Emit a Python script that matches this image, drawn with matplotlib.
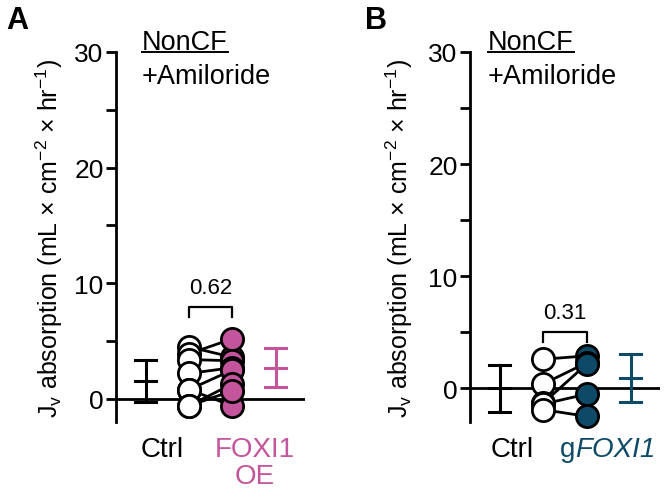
import matplotlib
matplotlib.use('Agg')
import matplotlib.pyplot as plt
import numpy as np

plt.rcParams['font.family'] = ['Liberation Sans', 'DejaVu Sans']
plt.rcParams['mathtext.fontset'] = 'custom'
plt.rcParams['mathtext.rm'] = 'Liberation Sans'
plt.rcParams['mathtext.it'] = 'Liberation Sans:italic'

# panel A data (paired wells)
a_ctrl = [4.5, 3.9, 3.4, 2.2, 0.8, 0.8, -0.6, -0.6]
a_treat = [3.6, 5.2, 3.3, 2.7, 2.5, -0.6, 1.3, 0.7]
a_ctrl_mean, a_ctrl_lo, a_ctrl_hi = 1.55, -0.25, 3.4
a_treat_mean, a_treat_lo, a_treat_hi = 2.7, 1.0, 4.4
a_p = '0.62'

# panel B data
b_ctrl = [2.6, 0.4, -1.3, -1.4, -1.9]
b_treat = [2.9, 2.3, 2.2, -0.5, -2.5]
b_ctrl_mean, b_ctrl_lo, b_ctrl_hi = 0.0, -2.1, 2.1
b_treat_mean, b_treat_lo, b_treat_hi = 0.9, -1.25, 3.1
b_p = '0.31'

pink = '#C4549C'
teal = '#0D4A68'

ylab = (r'J$_\mathregular{v}$ absorption (mL × cm$^{\mathregular{−2}}$'
        r' × hr$^{\mathregular{−1}}$)')

W, H = 670, 502
fig = plt.figure(figsize=(6.7, 5.02), dpi=100)


def fx(px):
    return px / W


def fy(py):
    return 1 - py / H


def summary(ax, x, mean, lo, hi, color):
    w = 0.24
    ax.plot([x, x], [lo, hi], color=color, lw=2.2, clip_on=False, zorder=3)
    for yy in (lo, mean, hi):
        ax.plot([x - w, x + w], [yy, yy], color=color, lw=2.2,
                clip_on=False, zorder=3)


def panel(x0, x1, ymin, ctrl, treat, stats, color, p, p_y, lab_x):
    ax = fig.add_axes([fx(x0), fy(423), fx(x1 - x0), (423 - 53) / H])
    ax.set_xlim(-0.68, 3.67)
    ax.set_ylim(ymin, 30)
    for s in ('top', 'right', 'bottom'):
        ax.spines[s].set_visible(False)
    ax.spines['left'].set_linewidth(2)
    ax.axhline(0, color='black', lw=2, zorder=2)
    ax.set_yticks([0, 10, 20, 30])
    ax.set_yticks([5, 15, 25], minor=True)
    ax.tick_params(axis='y', which='both', width=2, length=7,
                   labelsize=19, pad=2)
    ax.set_xticks([])
    ax.set_ylabel(ylab, fontsize=18)
    ax.yaxis.set_label_coords(lab_x, 0.5)

    # paired lines
    for c, t in zip(ctrl, treat):
        ax.plot([1, 2], [c, t], color='black', lw=2, zorder=4, clip_on=False)
    ax.plot(np.ones(len(ctrl)), ctrl, 'o', ms=16, mfc='white',
            mec='black', mew=2, zorder=5, clip_on=False)
    ax.plot(np.full(len(treat), 2), treat, 'o', ms=16, mfc=color,
            mec='black', mew=2, zorder=5, clip_on=False)

    summary(ax, 0, stats[0][0], stats[0][1], stats[0][2], 'black')
    summary(ax, 3, stats[1][0], stats[1][1], stats[1][2], color)

    # bracket + p value
    ax.plot([1, 1, 2, 2], [p_y - 0.85, p_y, p_y, p_y - 0.85], color='black',
            lw=1.6, clip_on=False)
    ax.text(1.5, p_y + 0.8, p, ha='center', va='bottom', fontsize=16)
    return ax


axA = panel(116, 305, -2, a_ctrl, a_treat,
            [(a_ctrl_mean, a_ctrl_lo, a_ctrl_hi),
             (a_treat_mean, a_treat_lo, a_treat_hi)],
            pink, a_p, 7.95, -0.27)
axB = panel(470, 660, -3, b_ctrl, b_treat,
            [(b_ctrl_mean, b_ctrl_lo, b_ctrl_hi),
             (b_treat_mean, b_treat_lo, b_treat_hi)],
            teal, b_p, 5.0, -0.29)

# headers
heads = []
for hx in (142, 488):
    t = fig.text(fx(hx), fy(50), 'NonCF', fontsize=19.5, ha='left',
                 va='baseline')
    fig.text(fx(hx), fy(84), '+Amiloride', fontsize=19.5, ha='left',
             va='baseline')
    heads.append(t)

# x labels
fig.text(fx(162), fy(437), 'Ctrl', fontsize=20, ha='center', va='top')
fig.text(fx(255), fy(437), 'FOXI1\nOE', fontsize=20, ha='center', va='top',
         color=pink, linespacing=1.05)
fig.text(fx(512), fy(437), 'Ctrl', fontsize=20, ha='center', va='top')
fig.text(fx(575), fy(437), 'g', fontsize=20, ha='right', va='top',
         color=teal)
fig.text(fx(575), fy(437), 'FOXI1', fontsize=20, ha='left', va='top',
         color=teal, style='italic')

# panel letters
fig.text(fx(6), fy(6), 'A', fontsize=22, fontweight='bold',
         ha='left', va='top')
fig.text(fx(365), fy(6), 'B', fontsize=22, fontweight='bold',
         ha='left', va='top')

# underline NonCF
fig.canvas.draw()
r = fig.canvas.get_renderer()
for t in heads:
    bb = t.get_window_extent(r)
    fig.add_artist(plt.Line2D([bb.x0 / W, bb.x1 / W],
                              [fy(52.5), fy(52.5)], color='black', lw=1.4))

fig.savefig('out.png', dpi=100)
